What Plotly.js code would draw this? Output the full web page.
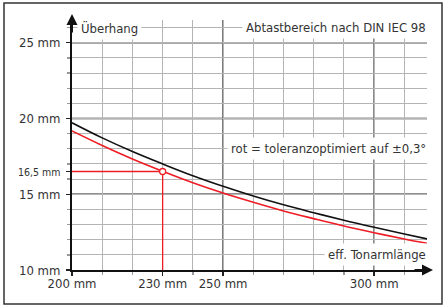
<!DOCTYPE html>
<html>
<head>
<meta charset="utf-8">
<script src="https://cdn.plot.ly/plotly-3.0.1.min.js"></script>
<style>html,body{margin:0;padding:0;background:#fff;}#chart{width:446px;height:306px;}</style>
</head>
<body>
<div id="chart"></div>
<script>
// Effective tonearm length (mm)
const armLength = [200, 210, 220, 230, 240, 250, 260, 270, 280, 290, 300, 310, 317.5];
// Overhang per DIN IEC 98 (black)
const overhangDin = [19.72, 18.72, 17.82, 17.0, 16.22, 15.52, 14.88, 14.3, 13.78, 13.28, 12.82, 12.38, 12.05];
// Overhang tolerance-optimised ±0,3° (red)
const overhangOpt = [19.18, 18.22, 17.33, 16.52, 15.76, 15.08, 14.47, 13.9, 13.39, 12.9, 12.46, 12.05, 11.76];
// Marked example point
const exampleX = [230];
const exampleY = [16.5];
const guideX = [200, 230, 230];
const guideY = [16.5, 16.5, 10];
// Tick labels
const xTickVals = [200, 230, 250, 300];
const xTickText = ['200 mm', '230 mm', '250 mm', '300 mm'];
const yTickVals = [10, 15, 16.5, 20, 25];
const yTickText = ['10 mm', '15 mm', '<span style="font-size:10.5px">16,5 mm</span>', '20 mm', '25 mm'];
const xMajorGrid = [250, 300];
const yMajorGrid = [15, 20, 25];

const FONT = "'DejaVu Sans Condensed', 'Liberation Sans Narrow', sans-serif";
const TXT = '#333';
const FS = 13;

const traces = [
  {x: guideX, y: guideY, mode: 'lines', line: {color: '#ee1c24', width: 1.3}, hoverinfo: 'skip', showlegend: false, cliponaxis: false},
  {x: armLength, y: overhangDin, mode: 'lines', line: {color: '#111', width: 1.6, shape: 'spline'}, showlegend: false},
  {x: armLength, y: overhangOpt, mode: 'lines', line: {color: '#ee1c24', width: 1.6, shape: 'spline'}, showlegend: false},
  {x: exampleX, y: exampleY, mode: 'markers', marker: {size: 6, color: '#fff', line: {color: '#ee1c24', width: 1.3}}, showlegend: false, cliponaxis: false}
];

const shapes = [];
xMajorGrid.forEach(v => shapes.push({type: 'line', xref: 'x', yref: 'paper', x0: v, x1: v, y0: 0, y1: 1, layer: 'between', line: {color: '#333', width: 1.4}}));
yMajorGrid.forEach(v => shapes.push({type: 'line', xref: 'paper', yref: 'y', x0: 0, x1: 1, y0: v, y1: v, layer: 'between', line: {color: v === 25 ? '#555' : '#222', width: 1.4}}));

// outer frame (in paper coordinates, plot area is 355 x 250 px at 72,20)
const pw = 355, ph = 250, ml = 72, mt = 20;
shapes.push({type: 'rect', xref: 'paper', yref: 'paper',
  x0: (4 - ml) / pw, x1: (442 - ml) / pw, y0: 1 - (304 - mt) / ph, y1: 1 - (3 - mt) / ph,
  line: {color: '#333', width: 1.5}, fillcolor: 'rgba(0,0,0,0)', layer: 'below'});

const lbl = (text, x, xref, y, xanchor) => ({
  text: text, x: x, xref: xref, y: y, yref: 'y', xanchor: xanchor, yanchor: 'middle',
  showarrow: false, bgcolor: '#fff', borderpad: 3, font: {family: FONT, size: FS, color: TXT}
});

const rightEdge = 1 + 3 / pw;
const annotations = [
  lbl('Überhang', 201.5, 'x', 26, 'left'),
  lbl('Abtastbereich nach DIN IEC 98', rightEdge, 'paper', 26, 'right'),
  lbl('rot = toleranzoptimiert auf ±0,3°', rightEdge, 'paper', 18, 'right'),
  lbl('eff. Tonarmlänge', rightEdge, 'paper', 11, 'right'),
  // axis arrows
  {x: 0, xref: 'paper', y: 1 + 6 / ph, yref: 'paper', ax: 0, ay: 20, text: '', showarrow: true,
   arrowhead: 2, arrowsize: 1.1, arrowwidth: 2, arrowcolor: '#111'},
  {x: 1 + 6 / pw, xref: 'paper', y: 0, yref: 'paper', ax: -20, ay: 0, text: '', showarrow: true,
   arrowhead: 2, arrowsize: 1.1, arrowwidth: 2, arrowcolor: '#111'}
];

const layout = {
  width: 446, height: 306,
  margin: {l: ml, r: 446 - ml - pw, t: mt, b: 306 - mt - ph, pad: 0},
  paper_bgcolor: '#fff', plot_bgcolor: '#fff',
  font: {family: FONT, size: FS, color: TXT},
  showlegend: false,
  xaxis: {
    range: [200, 317.5], tickvals: xTickVals, ticktext: xTickText,
    ticks: 'outside', ticklen: 4, tickwidth: 1.3, tickcolor: '#222',
    showgrid: false, zeroline: false, showline: true, linecolor: '#111', linewidth: 2,
    tickfont: {family: FONT, size: FS, color: TXT}, ticklabelstandoff: -4,
    minor: {dtick: 10, tick0: 200, ticks: 'outside', ticklen: 3, tickcolor: '#999', showgrid: true, gridcolor: '#b4b4b4', gridwidth: 1},
    fixedrange: true
  },
  yaxis: {
    range: [10, 26.5], tickvals: yTickVals, ticktext: yTickText,
    ticks: 'outside', ticklen: 4, tickwidth: 1.3, tickcolor: '#222',
    showgrid: false, zeroline: false, showline: true, linecolor: '#111', linewidth: 2,
    tickfont: {family: FONT, size: FS, color: TXT}, ticklabelstandoff: 3,
    minor: {dtick: 1, tick0: 10, ticks: 'outside', ticklen: 3, tickcolor: '#999', showgrid: true, gridcolor: '#b4b4b4', gridwidth: 1},
    fixedrange: true
  },
  shapes: shapes,
  annotations: annotations
};

Plotly.newPlot('chart', traces, layout, {staticPlot: true, displayModeBar: false});
</script>
</body>
</html>
